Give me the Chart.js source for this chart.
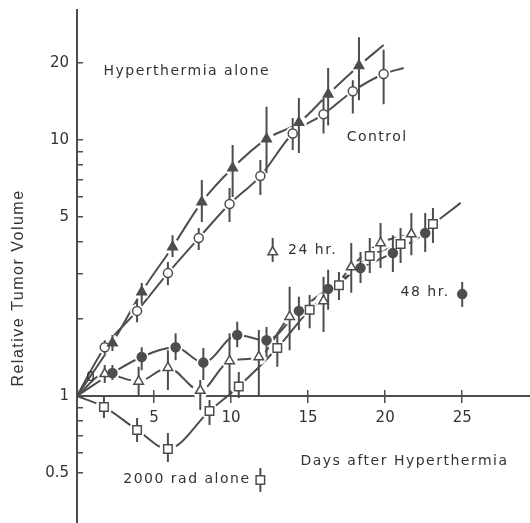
<!DOCTYPE html>
<html lang="en">
<head>
<meta charset="UTF-8">
<title>Relative Tumor Volume after Hyperthermia</title>
<script src="https://cdn.jsdelivr.net/npm/chart.js"></script>
<style>
  html, body { margin: 0; padding: 0; background: #fff; }
  #wrap { width: 530px; height: 523px; }
</style>
</head>
<body>
<div id="wrap"><canvas id="tumorChart"></canvas></div>
<script>
// values (day, relative volume, error bar ends)
const hyperDays = [2.3, 4.2, 6.2, 8.1, 10.1, 12.3, 14.4, 16.3, 18.3];
const hyperVals = [1.61, 2.55, 3.82, 5.72, 7.77, 10.1, 11.7, 15.1, 19.5];
const hyperLo = [1.50, 2.29, 3.49, 4.78, 5.99, 7.43, 8.9, 11.4, 14.3];
const hyperHi = [1.73, 2.76, 4.25, 6.98, 9.56, 13.5, 14.6, 19.1, 25.2];
const hyperEnd = [19.9, 23.5];

const ctlDays = [1.8, 3.9, 5.9, 7.9, 9.9, 11.9, 14.0, 16.0, 17.9, 19.9];
const ctlVals = [1.55, 2.15, 3.02, 4.14, 5.62, 7.23, 10.6, 12.6, 15.5, 18.1];
const ctlLo = [1.46, 1.94, 2.71, 3.72, 4.78, 6.10, 9.14, 10.6, 12.7, 13.8];
const ctlHi = [1.65, 2.37, 3.34, 4.53, 6.49, 8.35, 12.2, 14.6, 17.1, 22.5];
const ctlEnd = [21.2, 19.1];

const h48Days = [2.3, 4.2, 6.4, 8.2, 10.4, 12.3, 14.4, 16.3, 18.4, 20.5, 22.6];
const h48Vals = [1.23, 1.42, 1.55, 1.35, 1.73, 1.65, 2.15, 2.62, 3.16, 3.62, 4.33];
const h48Lo = [1.155, 1.26, 1.38, 1.155, 1.55, 1.42, 1.81, 2.17, 2.76, 3.05, 3.65];
const h48Hi = [1.32, 1.55, 1.76, 1.54, 1.95, 1.86, 2.44, 3.11, 3.65, 4.25, 5.19];

const h24Days = [1.8, 4.0, 5.9, 8.0, 9.9, 11.8, 13.8, 16.0, 17.8, 19.7, 21.7];
const h24Vals = [1.22, 1.14, 1.29, 1.05, 1.37, 1.42, 2.04, 2.35, 3.19, 3.96, 4.29];
const h24Lo = [1.124, 0.99, 1.055, 0.882, 0.99, 1.0, 1.51, 1.78, 2.53, 3.16, 3.55];
const h24Hi = [1.32, 1.30, 1.51, 1.155, 1.76, 1.81, 2.67, 2.92, 3.96, 4.74, 5.19];

const radDays = [1.75, 3.9, 5.9, 8.6, 10.5, 13.0, 15.1, 17.0, 19.0, 21.0, 23.1];
const radVals = [0.906, 0.737, 0.621, 0.874, 1.09, 1.54, 2.17, 2.71, 3.52, 3.92, 4.70];
const radLo = [0.821, 0.661, 0.552, 0.77, 0.982, 1.30, 1.84, 2.37, 3.02, 3.31, 3.96];
const radHi = [0.99, 0.821, 0.717, 0.965, 1.24, 1.76, 2.48, 3.05, 4.14, 4.53, 5.42];
const radEnd = [24.9, 5.68];

// key symbols next to the labels
const keyNames = ['24 hr.', '48 hr.', '2000 rad alone'];
const keyDays = [12.7, 25.0, 11.9];
const keyVals = [3.65, 2.50, 0.47];
const keyLo = [3.34, 2.23, 0.422];
const keyHi = [4.14, 2.79, 0.523];

const xTicks = [0, 5, 10, 15, 20, 25];
const yTicks = [0.5, 0.6, 0.7, 0.8, 0.9, 1, 2, 3, 4, 5, 6, 7, 8, 9, 10, 20];
const yLabels = [0.5, 1, 5, 10, 20];
const yMin = 0.319, yMax = 32.2;

const noteTexts = ['Hyperthermia alone', 'Control', '24 hr.', '48 hr.', '2000 rad alone', 'Days after Hyperthermia', '0'];
const noteDays = [1.72, 17.5, 13.7, 21.0, 3.0, 14.5, 0.58];
const noteVals = [18.6, 10.2, 3.69, 2.55, 0.474, 0.557, 1.186];

// plot frame in canvas pixels
const frame = {left: 77, top: 10, right: 530, bottom: 523};

const ink = '#4d4d4d';
const textInk = '#333';

function pts(days, vals) {
    return days.map((d, i) => ({x: d, y: vals[i]}));
}
function bars(days, lo, hi) {
    const out = [];
    days.forEach((d, i) => {
        out.push({x: d, y: lo[i]}, {x: d, y: hi[i]}, {x: d, y: null});
    });
    return out;
}

const series = [
    {days: hyperDays, vals: hyperVals, lo: hyperLo, hi: hyperHi, end: hyperEnd, style: 'triangle', filled: true, r: 5.5},
    {days: ctlDays, vals: ctlVals, lo: ctlLo, hi: ctlHi, end: ctlEnd, style: 'circle', filled: false, r: 4.5},
    {days: h48Days, vals: h48Vals, lo: h48Lo, hi: h48Hi, end: null, style: 'circle', filled: true, r: 4.5},
    {days: h24Days, vals: h24Vals, lo: h24Lo, hi: h24Hi, end: null, style: 'triangle', filled: false, r: 5.5},
    {days: radDays, vals: radVals, lo: radLo, hi: radHi, end: radEnd, style: 'rect', filled: false, r: 6}
];
const keyStyle = [series[3], series[2], series[4]];

const datasets = [];
series.forEach(s => {
    const curve = [{x: 0, y: 1}].concat(pts(s.days, s.vals));
    if (s.end) curve.push({x: s.end[0], y: s.end[1]});
    datasets.push({
        data: curve, showLine: true, pointRadius: 0, borderColor: ink, borderWidth: 2,
        tension: 0.4, cubicInterpolationMode: 'monotone', order: 4
    });
    // white gap round each marker
    datasets.push({
        data: pts(s.days, s.vals), pointStyle: 'circle', pointRadius: s.r + 2.5,
        pointBackgroundColor: '#fff', pointBorderColor: '#fff', pointBorderWidth: 0, order: 3
    });
    datasets.push({
        data: bars(s.days, s.lo, s.hi), showLine: true, spanGaps: false, pointRadius: 0,
        borderColor: ink, borderWidth: 2, order: 2
    });
    datasets.push({
        data: pts(s.days, s.vals), pointStyle: s.style, pointRadius: s.r,
        pointBackgroundColor: s.filled ? ink : '#fff', pointBorderColor: ink, pointBorderWidth: 1.5, order: 1
    });
});
keyNames.forEach((name, i) => {
    const s = keyStyle[i];
    datasets.push({
        data: bars([keyDays[i]], [keyLo[i]], [keyHi[i]]), showLine: true, pointRadius: 0,
        borderColor: ink, borderWidth: 2, order: 2
    });
    datasets.push({
        data: [{x: keyDays[i], y: keyVals[i]}], pointStyle: s.style, pointRadius: s.r,
        pointBackgroundColor: s.filled ? ink : '#fff', pointBorderColor: ink, pointBorderWidth: 1.5, order: 0
    });
});

// keep the scales on the frame whatever padding the layout added
const pinFrame = {
    id: 'pinFrame',
    afterLayout(chart) {
        const {x, x2, y} = chart.scales;
        [x, x2].forEach(s => {
            s.left = frame.left; s.right = frame.right; s.width = frame.right - frame.left;
            s.configure();
        });
        y.top = frame.top; y.bottom = frame.bottom; y.height = frame.bottom - frame.top;
        y.configure();
        Object.assign(chart.chartArea, {left: frame.left, top: frame.top, right: frame.right, bottom: frame.bottom,
            width: frame.right - frame.left, height: frame.bottom - frame.top});
    }
};

const notes = {
    id: 'notes',
    afterDraw(chart) {
        const {ctx, scales: {x, y}} = chart;
        ctx.save();
        ctx.fillStyle = textInk;
        ctx.font = '14px "DejaVu Sans"';
        ctx.letterSpacing = '1.5px';
        ctx.textAlign = 'left';
        ctx.textBaseline = 'middle';
        noteTexts.forEach((t, i) => {
            ctx.fillText(t, x.getPixelForValue(noteDays[i]), y.getPixelForValue(noteVals[i]));
        });
        // y axis title
        ctx.font = '16px "Liberation Sans"';
        ctx.letterSpacing = '1.5px';
        ctx.textAlign = 'center';
        ctx.translate(19, 288);
        ctx.rotate(-Math.PI / 2);
        ctx.fillText('Relative Tumor Volume', 0, 0);
        ctx.restore();
    }
};

const tickFont = {family: 'DejaVu Sans', size: 15};

new Chart(document.getElementById('tumorChart'), {
    type: 'scatter',
    data: {datasets: datasets},
    options: {
        responsive: true,
        maintainAspectRatio: false,
        animation: false,
        layout: {padding: {top: 10, left: 0, right: 0, bottom: 0}},
        plugins: {legend: {display: false}, tooltip: {enabled: false}},
        scales: {
            x: {
                type: 'linear', position: {y: 1}, min: 0, max: 29.4, z: 1,
                afterBuildTicks: s => { s.ticks = xTicks.map(v => ({value: v})); },
                afterFit: s => { s.paddingLeft = 0; s.paddingRight = 0; },
                ticks: {callback: v => v === 0 ? '' : String(v), padding: 7, font: tickFont, color: textInk, maxRotation: 0, autoSkip: false},
                grid: {drawOnChartArea: false, tickLength: 6, color: ink, lineWidth: 1.5},
                border: {color: ink, width: 2}
            },
            x2: {
                type: 'linear', axis: 'x', position: {y: 1}, min: 0, max: 29.4, z: 1,
                afterBuildTicks: s => { s.ticks = xTicks.filter(v => v > 0).map(v => ({value: v})); },
                afterFit: s => { s.paddingLeft = 0; s.paddingRight = 0; },
                ticks: {display: false},
                grid: {drawOnChartArea: false, tickLength: -6, color: ink, lineWidth: 1.5},
                border: {display: false}
            },
            y: {
                type: 'logarithmic', position: 'left', min: yMin, max: yMax,
                // the log scale rounds its lower bound, so set both ends again
                afterBuildTicks: s => { s.ticks = yTicks.map(v => ({value: v})); s.min = yMin; s.max = yMax; },
                afterFit: s => { s.width = 77; s.paddingTop = 0; s.paddingBottom = 0; },
                ticks: {callback: v => yLabels.includes(v) ? String(v) : '', padding: 14, font: tickFont, color: textInk, autoSkip: false},
                grid: {drawOnChartArea: false, tickLength: -6, color: ink, lineWidth: 1.5},
                border: {color: ink, width: 2}
            }
        }
    },
    plugins: [pinFrame, notes]
});
</script>
</body>
</html>
